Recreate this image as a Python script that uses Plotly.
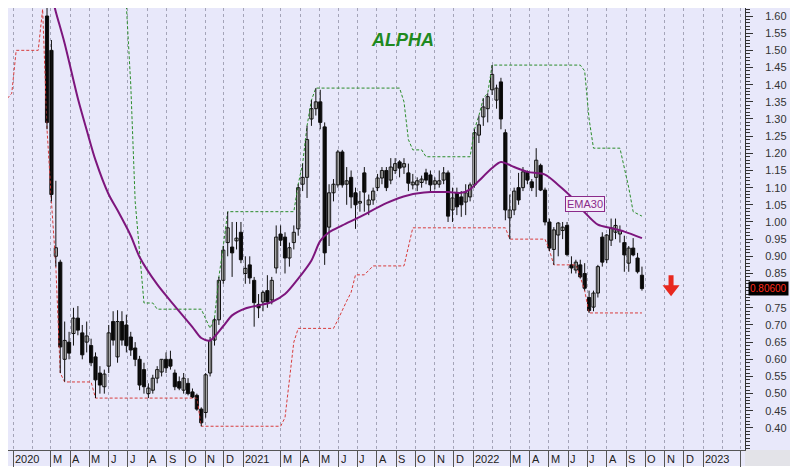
import plotly.graph_objects as go
import pandas as pd

START = pd.Timestamp("2020-02-24")

# weekly OHLC (week 0 = 2020-02-24)
opens = [1.60, 1.50, 0.90, 0.883, 0.60, 0.65, 0.675, 0.72, 0.677, 0.65,
         0.64, 0.607, 0.56, 0.52, 0.58, 0.71, 0.607, 0.71, 0.70, 0.665,
         0.633, 0.60, 0.57, 0.50, 0.51, 0.545, 0.563, 0.60, 0.60, 0.56,
         0.535, 0.51, 0.53, 0.505, 0.495, 0.455, 0.445, 0.56, 0.656, 0.715,
         0.83, 0.94, 0.927, 0.945, 0.97, 0.85, 0.875, 0.83, 0.76, 0.767,
         0.80, 0.773, 0.866, 0.965, 0.956, 0.895, 0.94, 0.98, 1.11, 1.13,
         1.30, 1.33, 1.35, 1.277, 0.985, 1.085, 1.108, 1.204, 1.11, 1.13,
         1.085, 1.055, 1.143, 1.05, 1.064, 1.10, 1.128, 1.15, 1.122, 1.15,
         1.175, 1.16, 1.143, 1.108, 1.108, 1.115, 1.143, 1.137, 1.11, 1.11,
         1.122, 1.143, 1.035, 1.085, 1.073, 1.058, 1.073, 1.108, 1.253, 1.306,
         1.33, 1.385, 1.355, 1.408, 1.26, 1.012, 1.035, 1.10, 1.10, 1.146,
         1.117, 1.13, 1.165, 1.093, 1.0, 0.92, 0.962, 0.975, 0.99, 0.875,
         0.86, 0.875, 0.85, 0.78, 0.752, 0.793, 0.956, 0.89, 0.947, 0.97,
         0.965, 0.94, 0.88, 0.924, 0.895, 0.845]
highs = [1.68, 1.53, 1.12, 0.89, 0.71, 0.68, 0.75, 0.755, 0.70, 0.71,
         0.66, 0.62, 0.58, 0.57, 0.70, 0.74, 0.743, 0.74, 0.73, 0.68,
         0.65, 0.61, 0.59, 0.53, 0.555, 0.58, 0.60, 0.62, 0.625, 0.57,
         0.55, 0.56, 0.545, 0.515, 0.50, 0.46, 0.56, 0.665, 0.72, 0.84,
         0.93, 1.03, 1.00, 1.00, 1.00, 0.90, 0.90, 0.84, 0.79, 0.80,
         0.845, 0.84, 0.99, 0.99, 0.97, 0.94, 0.99, 1.11, 1.17, 1.28,
         1.355, 1.39, 1.385, 1.29, 1.11, 1.125, 1.21, 1.21, 1.16, 1.15,
         1.10, 1.09, 1.16, 1.08, 1.10, 1.14, 1.16, 1.16, 1.186, 1.186,
         1.18, 1.186, 1.17, 1.14, 1.13, 1.135, 1.155, 1.15, 1.13, 1.15,
         1.16, 1.15, 1.10, 1.10, 1.09, 1.11, 1.115, 1.27, 1.31, 1.36,
         1.375, 1.457, 1.40, 1.42, 1.27, 1.08, 1.10, 1.143, 1.16, 1.15,
         1.125, 1.215, 1.17, 1.10, 1.01, 0.985, 1.0, 1.0, 1.0, 0.90,
         0.89, 0.89, 0.88, 0.80, 0.80, 0.875, 0.97, 0.965, 1.01, 1.01,
         0.99, 0.96, 0.93, 0.953, 0.91, 0.87]
lows = [1.27, 1.06, 0.87, 0.56, 0.535, 0.60, 0.64, 0.67, 0.60, 0.62,
        0.58, 0.487, 0.50, 0.50, 0.56, 0.64, 0.59, 0.64, 0.62, 0.61,
        0.58, 0.51, 0.50, 0.487, 0.50, 0.53, 0.55, 0.56, 0.57, 0.51,
        0.51, 0.50, 0.495, 0.487, 0.45, 0.405, 0.43, 0.55, 0.64, 0.70,
        0.82, 0.90, 0.84, 0.92, 0.88, 0.82, 0.82, 0.695, 0.72, 0.74,
        0.75, 0.76, 0.85, 0.93, 0.85, 0.87, 0.92, 0.96, 1.09, 1.07,
        1.28, 1.31, 1.27, 0.875, 0.93, 1.06, 1.10, 1.10, 1.05, 1.04,
        0.98, 1.03, 1.03, 1.02, 1.05, 1.09, 1.11, 1.09, 1.11, 1.14,
        1.13, 1.14, 1.09, 1.095, 1.09, 1.10, 1.11, 1.09, 1.095, 1.10,
        1.11, 1.00, 1.00, 1.02, 1.015, 1.02, 1.06, 1.10, 1.23, 1.28,
        1.29, 1.37, 1.33, 1.27, 1.005, 0.95, 1.02, 1.05, 1.09, 1.11,
        1.09, 1.073, 1.09, 0.99, 0.915, 0.875, 0.90, 0.95, 0.90, 0.85,
        0.85, 0.835, 0.80, 0.735, 0.74, 0.78, 0.87, 0.88, 0.93, 0.95,
        0.94, 0.855, 0.855, 0.90, 0.85, 0.80]
closes = [1.29, 1.08, 0.925, 0.636, 0.655, 0.618, 0.72, 0.685, 0.613, 0.668,
          0.59, 0.54, 0.525, 0.557, 0.677, 0.656, 0.71, 0.656, 0.64, 0.627,
          0.60, 0.525, 0.52, 0.516, 0.545, 0.57, 0.60, 0.575, 0.58, 0.52,
          0.516, 0.545, 0.50, 0.49, 0.455, 0.415, 0.555, 0.655, 0.715, 0.83,
          0.918, 0.983, 0.91, 0.953, 0.89, 0.865, 0.837, 0.765, 0.75, 0.795,
          0.767, 0.83, 0.956, 0.947, 0.895, 0.925, 0.97, 1.10, 1.13, 1.24,
          1.33, 1.35, 1.29, 0.91, 1.085, 1.11, 1.204, 1.108, 1.12, 1.073,
          1.05, 1.06, 1.087, 1.064, 1.09, 1.128, 1.15, 1.10, 1.16, 1.17,
          1.157, 1.17, 1.113, 1.116, 1.12, 1.125, 1.122, 1.108, 1.12, 1.12,
          1.143, 1.017, 1.07, 1.044, 1.05, 1.085, 1.108, 1.26, 1.283, 1.335,
          1.365, 1.43, 1.39, 1.30, 1.035, 1.035, 1.09, 1.064, 1.146, 1.122,
          1.10, 1.18, 1.093, 1.0, 0.924, 0.977, 0.997, 0.985, 0.905, 0.866,
          0.883, 0.84, 0.807, 0.742, 0.793, 0.87, 0.883, 0.962, 0.983, 0.99,
          0.975, 0.904, 0.924, 0.904, 0.855, 0.806]

# EMA30 line (week index, value)
ema_weeks = [0, 2, 4, 7, 9, 11, 14, 16, 19, 21, 25, 29, 33, 35, 37, 40, 42, 45,
             48, 51, 54, 57, 60, 62, 64, 67, 71, 77, 82, 87, 91, 94, 96, 98,
             101, 103, 106, 109, 113, 116, 119, 122, 125, 128, 131, 135]
ema_values = [1.71, 1.612, 1.52, 1.36, 1.268, 1.18, 1.08, 1.034, 0.96, 0.898,
              0.818, 0.755, 0.694, 0.662, 0.655, 0.697, 0.728, 0.748, 0.757,
              0.767, 0.79, 0.835, 0.888, 0.945, 0.97, 0.99, 1.015, 1.055, 1.078,
              1.087, 1.087, 1.085, 1.095, 1.12, 1.157, 1.175, 1.16, 1.146, 1.138,
              1.108, 1.073, 1.028, 0.992, 0.982, 0.972, 0.953]

# lower channel (red dotted)
low_ch_weeks = [-9, -8, -7, -2, -1, 0, 1, 2, 3, 4, 10, 11, 34, 35, 53, 54, 55,
                56, 57, 65, 66, 67, 68, 69, 70, 72, 73, 74, 81, 82, 83, 104,
                105, 113, 114, 115, 120, 121, 122, 123, 135]
low_ch_values = [1.36, 1.375, 1.50, 1.50, 1.62, 1.27, 1.06, 0.87, 0.56, 0.534,
                 0.534, 0.487, 0.487, 0.405, 0.405, 0.43, 0.54, 0.65, 0.69,
                 0.69, 0.715, 0.745, 0.77, 0.795, 0.846, 0.846, 0.86, 0.872,
                 0.872, 0.93, 0.983, 0.983, 0.95, 0.95, 0.918, 0.875, 0.875,
                 0.84, 0.80, 0.735, 0.735]

# upper channel (green dotted)
up_ch_weeks = [-9, 17, 18, 19, 20, 21, 22, 24, 25, 35, 36, 37, 38, 39, 40, 41,
               56, 57, 58, 59, 60, 61, 80, 81, 82, 83, 85, 86, 96, 97, 98, 99,
               100, 101, 121, 122, 123, 124, 130, 131, 132, 133, 135]
up_ch_values = [1.85, 1.80, 1.63, 1.40, 1.06, 0.92, 0.764, 0.764, 0.746, 0.746,
                0.72, 0.69, 0.72, 0.84, 0.93, 1.03, 1.03, 1.11, 1.17, 1.28,
                1.355, 1.39, 1.39, 1.35, 1.24, 1.21, 1.21, 1.19, 1.19, 1.27,
                1.31, 1.36, 1.375, 1.457, 1.457, 1.44, 1.30, 1.215, 1.215, 1.16,
                1.10, 1.03, 1.017]

# month labels on the time axis
month_dates = ["2020-01-01", "2020-03-01", "2020-04-01", "2020-05-01", "2020-06-01",
               "2020-07-01", "2020-08-01", "2020-09-01", "2020-10-01", "2020-11-01",
               "2020-12-01", "2021-01-01", "2021-03-01", "2021-04-01", "2021-05-01",
               "2021-06-01", "2021-07-01", "2021-08-01", "2021-09-01", "2021-10-01",
               "2021-11-01", "2021-12-01", "2022-01-01", "2022-03-01", "2022-04-01",
               "2022-05-01", "2022-06-01", "2022-07-01", "2022-08-01", "2022-09-01",
               "2022-10-01", "2022-11-01", "2022-12-01", "2023-01-01", "2023-03-01"]
month_labels = ["2020", "M", "A", "M", "J", "J", "A", "S", "O", "N", "D",
                "2021", "M", "A", "M", "J", "J", "A", "S", "O", "N", "D",
                "2022", "M", "A", "M", "J", "J", "A", "S", "O", "N", "D",
                "2023", ""]

price_ticks = [round(0.40 + 0.05 * k, 2) for k in range(25)]
last_price = 0.806
last_price_text = "0.80600"


def wk(w):
    return START + pd.Timedelta(days=7 * w)


dates = [wk(i) for i in range(len(opens))]

# page geometry (the page adds an 8px body margin on top/left)
OFF = 8
W, H = 790, 464
L, R, T, B = 0, 53, 0, 22
pw, ph = W - L - R, H - T - B


def px_x(page_x):
    return (page_x - OFF - L) / pw


def px_y(page_y):
    return (H - B - (page_y - OFF)) / ph


fig = go.Figure()
fig.add_trace(go.Scatter(x=[wk(w) for w in low_ch_weeks], y=low_ch_values, mode="lines",
                         line=dict(color="#d83c3c", width=1, dash="3px,2px"),
                         hoverinfo="skip", showlegend=False))
fig.add_trace(go.Scatter(x=[wk(w) for w in up_ch_weeks], y=up_ch_values, mode="lines",
                         line=dict(color="#2a8c2a", width=1, dash="3px,2px"),
                         hoverinfo="skip", showlegend=False))

# candle wicks
wx, wy = [], []
for d, hi, lo in zip(dates, highs, lows):
    wx += [d, d, None]
    wy += [lo, hi, None]
fig.add_trace(go.Scatter(x=wx, y=wy, mode="lines", line=dict(color="#111111", width=1),
                         hoverinfo="skip", showlegend=False, connectgaps=False))

# candle bodies
body_base = [min(o, c) for o, c in zip(opens, closes)]
body_len = [max(abs(c - o), 0.003) for o, c in zip(opens, closes)]
body_col = ["#ffffff" if c >= o else "#000000" for o, c in zip(opens, closes)]
week_ms = 7 * 24 * 3600 * 1000
fig.add_trace(go.Bar(x=dates, y=body_len, base=body_base, width=0.72 * week_ms,
                     marker=dict(color=body_col, line=dict(color="#111111", width=1)),
                     hoverinfo="skip", showlegend=False))

fig.add_trace(go.Scatter(x=[wk(w) for w in ema_weeks], y=ema_values, mode="lines",
                         line=dict(color="#7d167d", width=2, shape="spline", smoothing=0.8),
                         hoverinfo="skip", showlegend=False))

LAV = "#e8e8fa"

shapes = [
    dict(type="rect", xref="paper", yref="paper", x0=0, x1=W / pw,
         y0=-16 / ph, y1=1, fillcolor=LAV, line=dict(width=0), layer="below"),
    dict(type="rect", xref="paper", yref="paper", x0=1, x1=W / pw,
         y0=-16 / ph, y1=0, fillcolor="#e3e3e8", line=dict(width=0), layer="below"),
    # red "down" signal arrow, drawn in pixels around its anchor
    dict(type="path", xref="x", yref="y", xsizemode="pixel", ysizemode="pixel",
         xanchor=wk(141.6), yanchor=0.784,
         path="M 0 0 L -8.5 11 L -2.5 11 L -2.5 21 L 2.5 21 L 2.5 11 L 8.5 11 Z",
         fillcolor="#e8281e", line=dict(width=0), layer="above"),
]

annotations = []
for d, t in zip(month_dates, month_labels):
    if t:
        annotations.append(dict(x=d, y=0, xref="x", yref="paper", text=t,
                                showarrow=False, xanchor="left", yanchor="top",
                                yshift=-1, font=dict(size=11, color="#222222")))

annotations += [
    dict(x=px_x(402), y=px_y(28), xref="paper", yref="paper",
         text="<b><i>ALPHA</i></b>", showarrow=False,
         font=dict(size=18, color="#1f8a1f")),
    dict(x=wk(122.1), y=1.052, xref="x", yref="y", text="EMA30", showarrow=False,
         font=dict(size=11, color="#8a2a8a"), bordercolor="#8a2a8a", borderwidth=1,
         borderpad=1, bgcolor="#f4eefa"),
    dict(x=px_x(748), y=last_price, xref="paper", yref="y", text=last_price_text,
         showarrow=False, xanchor="left", font=dict(size=10, color="#ff2a1a"),
         bgcolor="#000000", borderpad=1),
]

fig.update_layout(
    width=W, height=H,
    margin=dict(l=L, r=R, t=T, b=B, pad=0),
    paper_bgcolor="white", plot_bgcolor=LAV,
    font=dict(family="Liberation Sans, Arial, sans-serif", size=11, color="#222222"),
    showlegend=False, barmode="overlay",
    shapes=shapes, annotations=annotations,
    xaxis=dict(
        type="date", range=["2019-12-24", "2023-03-08 16:00"],
        tickmode="array", tickvals=month_dates, showticklabels=False,
        ticks="outside", ticklen=16, tickcolor="#555555", tickwidth=1,
        showgrid=True, gridcolor="#a4a4b8", griddash="dot", gridwidth=1,
        minor=dict(tickmode="linear", tick0="2020-01-01", dtick="M1", showgrid=True,
                   gridcolor="#a4a4b8", griddash="dot", gridwidth=1, ticks=""),
        showline=True, linecolor="#555555", linewidth=1, zeroline=False,
        fixedrange=True,
    ),
    yaxis=dict(
        side="right", range=[0.3358, 1.6233],
        tickmode="array", tickvals=price_ticks,
        ticktext=["" if abs(v - 0.80) < 1e-9 else f"{v:.2f}" for v in price_ticks],
        ticks="outside", ticklen=7, tickcolor="#333333", ticklabelstandoff=10,
        tickfont=dict(size=11, color="#333333"),
        minor=dict(tickmode="linear", tick0=0, dtick=0.01, ticks="outside",
                   ticklen=4, tickcolor="#333333", showgrid=False),
        showgrid=False, zeroline=False,
        showline=True, linecolor="#333333", linewidth=1, fixedrange=True,
    ),
)

fig.write_html("out.html")
